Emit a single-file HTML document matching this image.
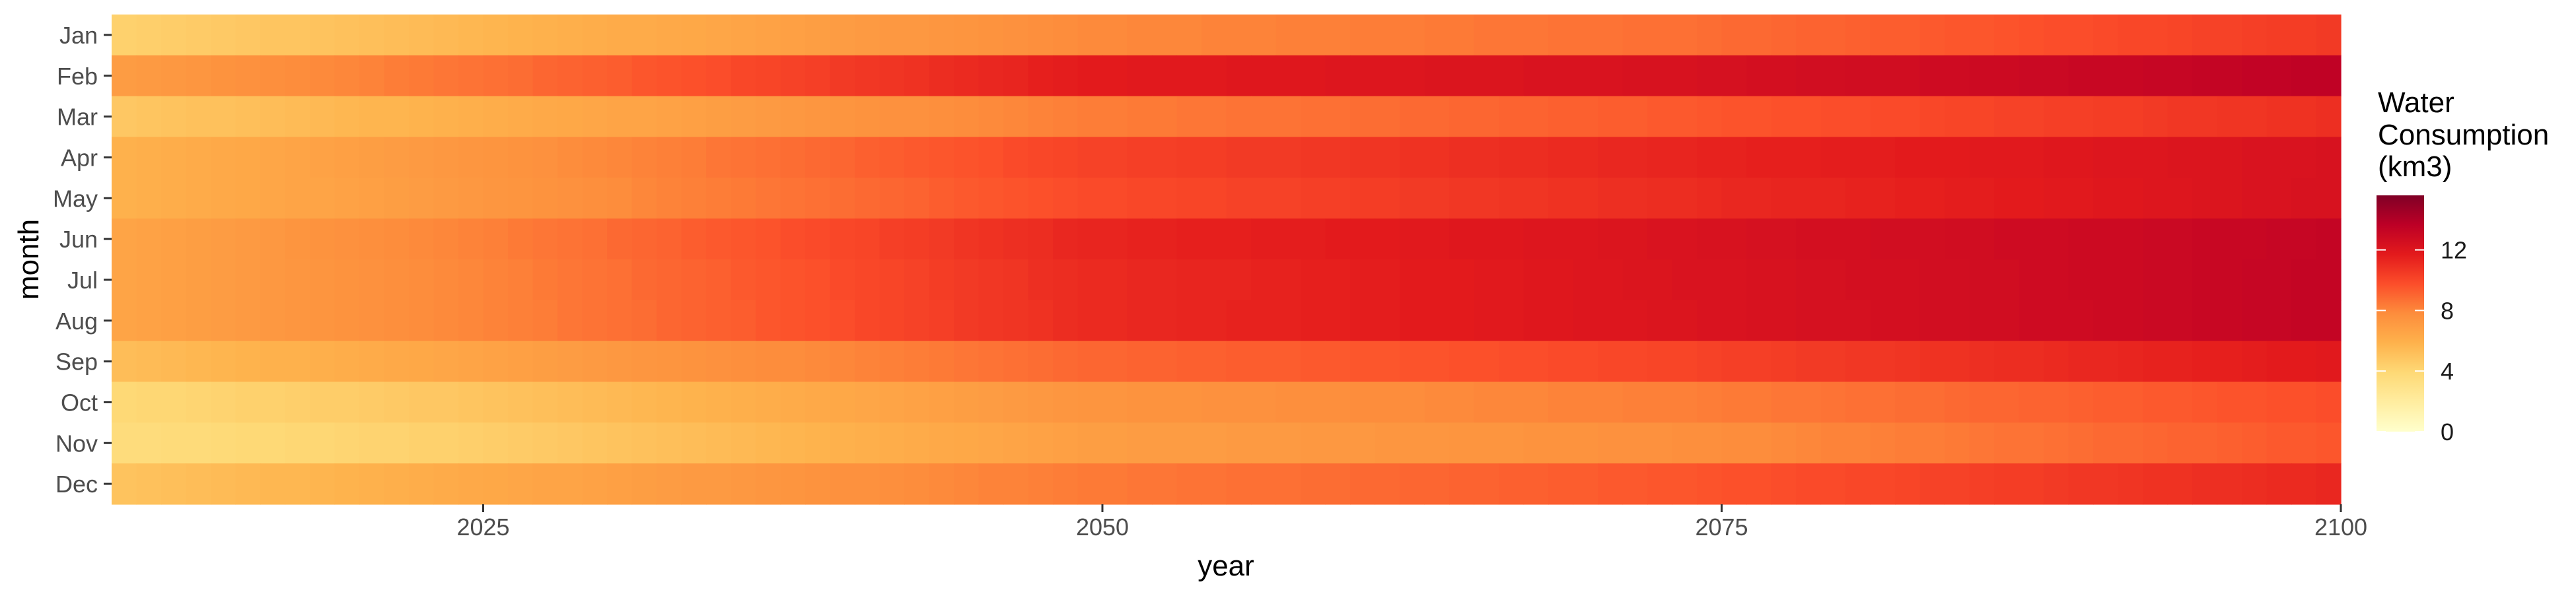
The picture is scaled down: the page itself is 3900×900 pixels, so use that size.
<!DOCTYPE html>
<html><head><meta charset="utf-8"><style>
html,body{margin:0;padding:0;background:#fff;}
svg{display:block;font-family:"Liberation Sans",Arial,sans-serif;}
</style></head><body>
<svg id="chart" width="3900" height="900" xmlns="http://www.w3.org/2000/svg">
<defs>
<linearGradient id="cbar" x1="0" y1="1" x2="0" y2="0"></linearGradient>
</defs>
<g id="cells"></g>
<g id="yaxis"></g>
<g id="xaxis"></g>
<text x="1856" y="872" font-size="44" text-anchor="middle" fill="#000">year</text>
<text transform="translate(58,393) rotate(-90)" font-size="44" text-anchor="middle" fill="#000">month</text>
<g>
<text x="3600" y="170" font-size="44" fill="#000">Water</text>
<text x="3600" y="219" font-size="44" fill="#000">Consumption</text>
<text x="3600" y="267" font-size="44" fill="#000">(km3)</text>
<rect x="3598" y="296" width="72" height="358" fill="url(#cbar)"></rect>
<g id="cbticks"></g>
</g>
</svg>
<script>
const months = ["Jan","Feb","Mar","Apr","May","Jun","Jul","Aug","Sep","Oct","Nov","Dec"];
const startYear = 2011;
const xTicks = [2025, 2050, 2075, 2100];
const legendTicks = [0, 4, 8, 12];
const colorMax = 15.6;
const palette = ["#ffffcc","#ffeda0","#fed976","#feb24c","#fd8d3c","#fc4e2a","#e31a1c","#bd0026","#800026"];

const jan = [4.3,4.4,4.5,4.6,4.7,4.8,4.9,4.9,5.0,5.1,5.2,5.3,5.4,5.5,5.6,
5.7,5.8,5.9,6.0,6.1,6.2,6.2,6.3,6.4,6.5,6.6,6.7,6.8,6.9,7.0,7.1,7.2,7.2,7.3,7.4,7.5,7.6,7.7,7.8,7.9,
7.9,8.0,8.0,8.0,8.1,8.1,8.1,8.2,8.2,8.2,8.3,8.3,8.3,8.4,8.4,8.5,8.5,8.5,8.6,8.6,8.6,8.7,8.7,8.7,8.8,
8.9,8.9,9.0,9.1,9.1,9.2,9.3,9.3,9.4,9.5,9.5,9.6,9.7,9.8,9.8,9.9,10.0,10.0,10.1,10.2,10.2,10.3,10.4,10.4,10.5];
const feb = [7.0,7.1,7.2,7.3,7.5,7.6,7.7,7.8,7.9,8.0,8.1,8.3,8.4,8.5,8.6,
8.7,8.8,9.0,9.1,9.2,9.3,9.5,9.6,9.7,9.8,10.0,10.1,10.2,10.3,10.5,10.6,10.7,10.8,11.0,11.1,11.2,11.3,11.5,11.6,11.7,
11.7,11.8,11.8,11.8,11.8,11.9,11.9,11.9,11.9,12.0,12.0,12.0,12.0,12.1,12.1,12.1,12.1,12.2,12.2,12.2,12.2,12.3,12.3,12.3,12.4,
12.4,12.5,12.5,12.6,12.6,12.7,12.7,12.7,12.8,12.8,12.9,12.9,13.0,13.0,13.1,13.1,13.1,13.2,13.2,13.3,13.3,13.4,13.4,13.5,13.5];
const mar = [4.8,4.9,5.0,5.1,5.1,5.2,5.3,5.4,5.5,5.6,5.7,5.7,5.8,5.9,6.0,
6.1,6.2,6.3,6.4,6.5,6.6,6.6,6.7,6.8,6.9,7.0,7.1,7.2,7.3,7.4,7.5,7.6,7.6,7.7,7.8,7.9,8.0,8.1,8.2,8.3,
8.3,8.4,8.4,8.5,8.5,8.6,8.6,8.6,8.7,8.7,8.8,8.8,8.9,8.9,9.0,9.0,9.1,9.1,9.2,9.2,9.3,9.3,9.4,9.4,9.5,
9.6,9.6,9.7,9.7,9.8,9.8,9.9,9.9,10.0,10.1,10.1,10.2,10.2,10.3,10.3,10.4,10.4,10.5,10.6,10.6,10.7,10.7,10.8,10.8,10.9];
const apr = [5.9,6.0,6.1,6.2,6.3,6.4,6.5,6.6,6.7,6.8,6.9,7.0,7.1,7.2,7.3,
7.4,7.5,7.6,7.8,7.9,8.0,8.1,8.2,8.3,8.5,8.6,8.7,8.8,8.9,9.0,9.2,9.3,9.4,9.5,9.6,9.7,9.9,10.0,10.1,10.2,
10.2,10.3,10.3,10.4,10.4,10.5,10.5,10.5,10.6,10.6,10.7,10.7,10.8,10.8,10.9,10.9,11.0,11.0,11.1,11.1,11.2,11.2,11.3,11.3,11.4,
11.4,11.5,11.5,11.5,11.6,11.6,11.6,11.7,11.7,11.7,11.8,11.8,11.8,11.9,11.9,12.0,12.0,12.0,12.1,12.1,12.1,12.2,12.2,12.2,12.3];
const may = [5.9,6.0,6.1,6.2,6.3,6.4,6.5,6.6,6.6,6.7,6.8,6.9,7.0,7.1,7.2,
7.3,7.4,7.5,7.6,7.7,7.8,8.0,8.1,8.2,8.3,8.4,8.5,8.6,8.7,8.8,8.9,9.0,9.1,9.3,9.4,9.5,9.6,9.7,9.8,9.9,
9.9,10.0,10.0,10.1,10.1,10.2,10.2,10.2,10.3,10.3,10.4,10.4,10.5,10.5,10.6,10.6,10.7,10.7,10.8,10.8,10.9,10.9,11.0,11.0,11.1,
11.2,11.2,11.3,11.3,11.3,11.4,11.4,11.5,11.5,11.6,11.6,11.7,11.7,11.8,11.8,11.9,11.9,12.0,12.0,12.1,12.1,12.2,12.2,12.3,12.3];
const jun = [6.6,6.7,6.8,6.9,7.0,7.1,7.2,7.4,7.5,7.6,7.7,7.8,7.9,8.0,8.1,
8.2,8.4,8.5,8.6,8.7,8.9,9.0,9.1,9.3,9.4,9.5,9.6,9.8,9.9,10.0,10.1,10.3,10.4,10.5,10.7,10.8,10.9,11.0,11.2,11.3,
11.3,11.4,11.4,11.5,11.5,11.5,11.6,11.6,11.6,11.7,11.7,11.7,11.8,11.8,11.9,11.9,11.9,12.0,12.0,12.0,12.1,12.1,12.2,12.2,12.3,
12.3,12.4,12.4,12.5,12.5,12.5,12.6,12.6,12.6,12.7,12.7,12.8,12.8,12.8,12.9,12.9,12.9,13.0,13.0,13.1,13.1,13.1,13.2,13.2,13.3];
const jul = [6.6,6.7,6.8,6.9,7.0,7.1,7.2,7.3,7.4,7.5,7.6,7.7,7.8,7.9,8.0,
8.1,8.2,8.4,8.5,8.6,8.7,8.9,9.0,9.1,9.2,9.4,9.5,9.6,9.7,9.9,10.0,10.1,10.2,10.4,10.5,10.6,10.7,10.9,11.0,11.1,
11.1,11.2,11.2,11.3,11.3,11.3,11.4,11.4,11.5,11.5,11.6,11.6,11.7,11.7,11.7,11.8,11.8,11.9,11.9,12.0,12.0,12.1,12.1,12.2,12.2,
12.2,12.3,12.3,12.4,12.4,12.5,12.5,12.5,12.6,12.6,12.7,12.7,12.8,12.8,12.9,12.9,12.9,13.0,13.0,13.1,13.1,13.2,13.2,13.3,13.3];
const aug = [6.6,6.7,6.8,6.9,7.0,7.1,7.2,7.3,7.4,7.5,7.6,7.7,7.8,7.9,8.0,
8.1,8.2,8.3,8.5,8.6,8.7,8.8,9.0,9.1,9.2,9.3,9.5,9.6,9.7,9.8,10.0,10.1,10.2,10.3,10.5,10.6,10.7,10.8,11.0,11.1,
11.1,11.2,11.2,11.3,11.3,11.4,11.4,11.4,11.5,11.5,11.6,11.6,11.7,11.7,11.7,11.8,11.8,11.9,11.9,12.0,12.0,12.0,12.1,12.1,12.2,
12.2,12.3,12.3,12.4,12.4,12.4,12.5,12.5,12.6,12.6,12.7,12.7,12.8,12.8,12.8,12.9,12.9,13.0,13.0,13.1,13.1,13.2,13.2,13.3,13.3];
const sep = [5.3,5.4,5.5,5.6,5.7,5.8,5.9,5.9,6.0,6.1,6.2,6.3,6.4,6.5,6.6,
6.7,6.8,6.9,7.0,7.1,7.2,7.3,7.4,7.5,7.6,7.7,7.8,7.8,7.9,8.0,8.1,8.2,8.3,8.4,8.5,8.6,8.7,8.8,8.9,9.0,
9.0,9.1,9.1,9.2,9.2,9.3,9.3,9.3,9.4,9.4,9.5,9.5,9.6,9.6,9.7,9.7,9.8,9.8,9.9,9.9,10.0,10.0,10.1,10.1,10.2,
10.3,10.3,10.4,10.5,10.5,10.6,10.6,10.7,10.8,10.8,10.9,11.0,11.0,11.1,11.2,11.2,11.3,11.4,11.4,11.5,11.5,11.6,11.7,11.7,11.8];
const oct = [3.9,4.0,4.0,4.1,4.2,4.3,4.3,4.4,4.5,4.5,4.6,4.7,4.8,4.8,4.9,
5.0,5.1,5.2,5.3,5.4,5.5,5.6,5.7,5.8,5.9,6.0,6.1,6.2,6.3,6.4,6.5,6.6,6.7,6.8,6.9,7.0,7.1,7.2,7.3,7.4,
7.4,7.5,7.5,7.5,7.6,7.6,7.6,7.7,7.7,7.7,7.8,7.8,7.8,7.9,7.9,8.0,8.0,8.0,8.1,8.1,8.1,8.2,8.2,8.2,8.3,
8.4,8.4,8.5,8.5,8.6,8.7,8.7,8.8,8.8,8.9,9.0,9.0,9.1,9.1,9.2,9.3,9.3,9.4,9.4,9.5,9.6,9.6,9.7,9.7,9.8];
const nov = [3.6,3.6,3.7,3.7,3.8,3.9,3.9,4.0,4.0,4.1,4.2,4.2,4.3,4.3,4.4,
4.5,4.6,4.7,4.8,4.9,5.0,5.1,5.2,5.3,5.4,5.5,5.6,5.7,5.8,5.9,6.0,6.1,6.2,6.3,6.4,6.5,6.6,6.7,6.8,6.9,
6.9,7.0,7.0,7.0,7.0,7.1,7.1,7.1,7.2,7.2,7.2,7.3,7.3,7.3,7.4,7.4,7.4,7.5,7.5,7.5,7.6,7.6,7.6,7.7,7.7,
7.8,7.8,7.9,8.0,8.1,8.1,8.2,8.3,8.3,8.4,8.5,8.6,8.6,8.7,8.8,8.9,8.9,9.0,9.1,9.1,9.2,9.3,9.4,9.4,9.5];
const dec = [5.0,5.1,5.2,5.3,5.4,5.5,5.6,5.6,5.7,5.8,5.9,6.0,6.1,6.2,6.3,
6.4,6.5,6.6,6.6,6.7,6.8,6.9,7.0,7.1,7.1,7.2,7.3,7.4,7.5,7.6,7.6,7.7,7.8,7.9,8.0,8.1,8.1,8.2,8.3,8.4,
8.4,8.5,8.5,8.6,8.6,8.7,8.7,8.7,8.8,8.8,8.9,8.9,9.0,9.0,9.1,9.1,9.2,9.2,9.3,9.3,9.4,9.4,9.5,9.5,9.6,
9.7,9.7,9.8,9.9,9.9,10.0,10.0,10.1,10.2,10.2,10.3,10.4,10.4,10.5,10.6,10.6,10.7,10.8,10.8,10.9,10.9,11.0,11.1,11.1,11.2];
const series = [jan, feb, mar, apr, may, jun, jul, aug, sep, oct, nov, dec];

const NS = "http://www.w3.org/2000/svg";
const P = {left:169, right:3544, top:22, bottom:764};
const yearMin = 2010, yearMax = 2100;
function xScale(y){ return P.left + (y - yearMin) / (yearMax - yearMin) * (P.right - P.left); }
const rowH = (P.bottom - P.top) / months.length;
function yScale(i){ return P.top + i * rowH; }
function hex(c){ return [parseInt(c.slice(1,3),16),parseInt(c.slice(3,5),16),parseInt(c.slice(5,7),16)]; }
function color(v){
  let t = Math.max(0, Math.min(1, v / colorMax)) * (palette.length - 1);
  let i = Math.min(palette.length - 2, Math.floor(t)), f = t - i;
  const a = hex(palette[i]), b = hex(palette[i+1]);
  return "rgb(" + a.map((c,k)=>Math.round(c + (b[k]-c)*f)).join(",") + ")";
}
function mk(tag, attrs, parent){
  const e = document.createElementNS(NS, tag);
  for (const k in attrs) e.setAttribute(k, attrs[k]);
  parent.appendChild(e); return e;
}
const cells = document.getElementById("cells");
series.forEach((arr, mi) => {
  arr.forEach((v, j) => {
    const yr = startYear + j;
    const x0 = xScale(yr - 1), x1 = xScale(yr);
    const r = mk("rect", {x:x0, y:yScale(mi), width:(x1-x0)+0.6, height:rowH+0.6, fill:color(v)}, cells);
    
    
  });
});
const yax = document.getElementById("yaxis");
months.forEach((m, i) => {
  const cy = yScale(i) + rowH/2;
  const t = mk("text", {x:148, y:cy+13, "font-size":36, "text-anchor":"end", fill:"#4d4d4d"}, yax);
  t.textContent = m;
  
  
  const l = mk("line", {x1:157, x2:169, y1:cy, y2:cy, stroke:"#333", "stroke-width":3}, yax);
  
  
});
const xax = document.getElementById("xaxis");
xTicks.forEach(y => {
  const x = xScale(y);
  const l = mk("line", {x1:x, x2:x, y1:P.bottom, y2:P.bottom+12, stroke:"#333", "stroke-width":3}, xax);
  
  
  const t = mk("text", {x:x, y:811, "font-size":36, "text-anchor":"middle", fill:"#4d4d4d"}, xax);
  t.textContent = y;
  
  
});
const grad = document.getElementById("cbar");
palette.forEach((c, i) => {
  mk("stop", {offset:(i/(palette.length-1)), "stop-color":c}, grad);
});
const cb = document.getElementById("cbticks");
const cbTop = 296, cbBot = 654;
legendTicks.forEach(v => {
  const y = cbBot - v / colorMax * (cbBot - cbTop);
  const l1 = mk("line", {x1:3598, x2:3612, y1:y, y2:y, stroke:"#fff", "stroke-width":2}, cb);
  
  
  const l2 = mk("line", {x1:3656, x2:3670, y1:y, y2:y, stroke:"#fff", "stroke-width":2}, cb);
  
  
  const t = mk("text", {x:3695, y:y+13, "font-size":36, fill:"#1a1a1a"}, cb);
  t.textContent = v;
  
  
});
</script>
</body></html>
